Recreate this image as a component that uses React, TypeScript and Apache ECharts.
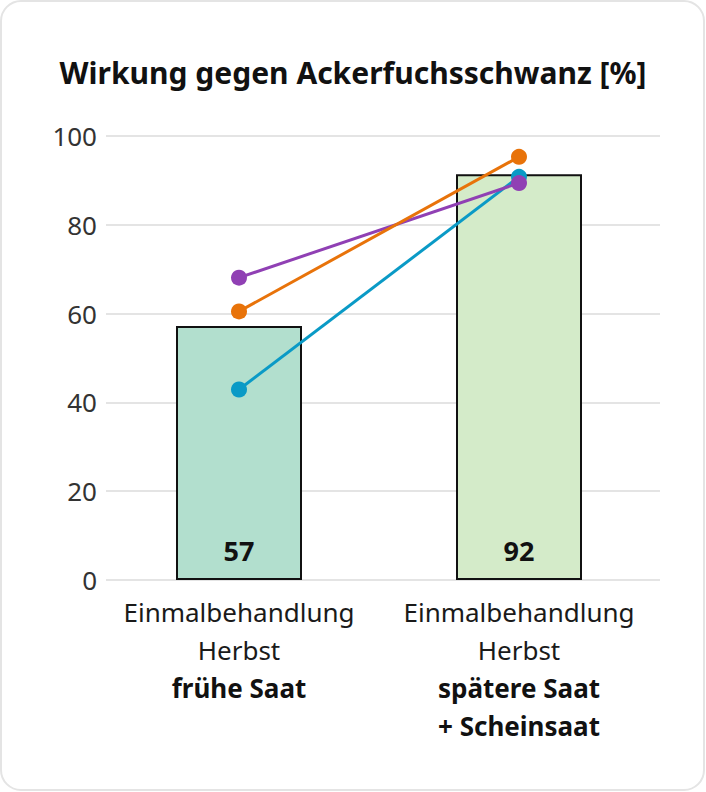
import React, { useEffect, useRef } from "react";
import * as echarts from "echarts";

const categories = [
  "Einmalbehandlung\nHerbst\n{b|frühe Saat}",
  "Einmalbehandlung\nHerbst\n{b|spätere Saat}\n{b|+ Scheinsaat}",
];
const barValues = [57.2, 91.4];
const barLabels = ["57", "92"];
const barColors = ["#b2dfce", "#d4ebc9"];
const purpleValues = [68.1, 89.4];
const orangeValues = [60.5, 95.3];
const blueValues = [42.9, 90.8];
const yTicks = { min: 0, max: 100, interval: 20 };
const titleText = "Wirkung gegen Ackerfuchsschwanz [%]";

const FONT = "Noto Sans";

export default function App() {
  const ref = useRef<HTMLDivElement>(null);
  useEffect(() => {
    if (!ref.current) return;
    const chart = echarts.init(ref.current, null, { renderer: "svg" });
    const lineSeries = (name: string, data: number[], color: string) => ({
      name,
      type: "line",
      xAxisIndex: 1,
      yAxisIndex: 1,
      data,
      symbol: "circle",
      symbolSize: 16,
      lineStyle: { color, width: 3 },
      itemStyle: { color },
      z: 5,
    });
    chart.setOption({
      animation: false,
      backgroundColor: "transparent",
      textStyle: { fontFamily: FONT },
      graphic: [
        {
          type: "rect",
          shape: { x: 1, y: 1, width: 703, height: 789, r: 20 },
          style: { fill: "#ffffff", stroke: "#e4e4e4", lineWidth: 2 },
          z: -10,
        },
      ],
      title: {
        text: titleText,
        left: "center",
        top: 52,
        textStyle: { fontFamily: FONT, fontSize: 30, fontWeight: "bold", color: "#111" },
      },
      grid: [
        { left: 106, right: 46, top: 136, bottom: 212 },
        { left: 99, right: 47, top: 136, bottom: 212 },
      ],
      xAxis: [
        {
          type: "category",
          gridIndex: 0,
          data: categories,
          show: false,
        },
        {
          type: "category",
          gridIndex: 1,
          data: categories,
          axisLine: { show: false },
          axisTick: { show: false },
          axisLabel: {
            margin: 13,
            fontFamily: FONT,
            fontSize: 26,
            lineHeight: 38,
            color: "#1a1a1a",
            interval: 0,
            rich: {
              b: { fontFamily: FONT, fontSize: 26, lineHeight: 38, fontWeight: "bold", color: "#111" },
            },
          },
        },
      ],
      yAxis: [
        {
          type: "value",
          gridIndex: 0,
          min: yTicks.min,
          max: yTicks.max,
          interval: yTicks.interval,
          axisLine: { show: false },
          axisTick: { show: false },
          axisLabel: { fontFamily: FONT, fontSize: 26, color: "#333", margin: 9 },
          splitLine: { lineStyle: { color: "#e4e4e4", width: 2 } },
        },
        {
          type: "value",
          gridIndex: 1,
          min: yTicks.min,
          max: yTicks.max,
          interval: yTicks.interval,
          show: false,
          splitLine: { show: false },
        },
      ],
      series: [
        {
          type: "bar",
          xAxisIndex: 1,
          yAxisIndex: 1,
          barWidth: 126,
          data: barValues.map((v, i) => ({
            value: v,
            itemStyle: { color: barColors[i], borderColor: "#111", borderWidth: 2 },
          })),
          label: {
            show: true,
            position: "insideBottom",
            distance: 16,
            fontFamily: FONT,
            fontSize: 27,
            fontWeight: "bold",
            color: "#111",
            formatter: (p: any) => barLabels[p.dataIndex],
          },
          z: 2,
        },
        lineSeries("blue", blueValues, "#0a9ac6"),
        lineSeries("purple", purpleValues, "#9040b4"),
        lineSeries("orange", orangeValues, "#e8730a"),
      ],
    });
    return () => chart.dispose();
  }, []);
  return (
    <div
      ref={ref}
      style={{ position: "absolute", left: 0, top: 0, width: 706, height: 792 }}
    />
  );
}
